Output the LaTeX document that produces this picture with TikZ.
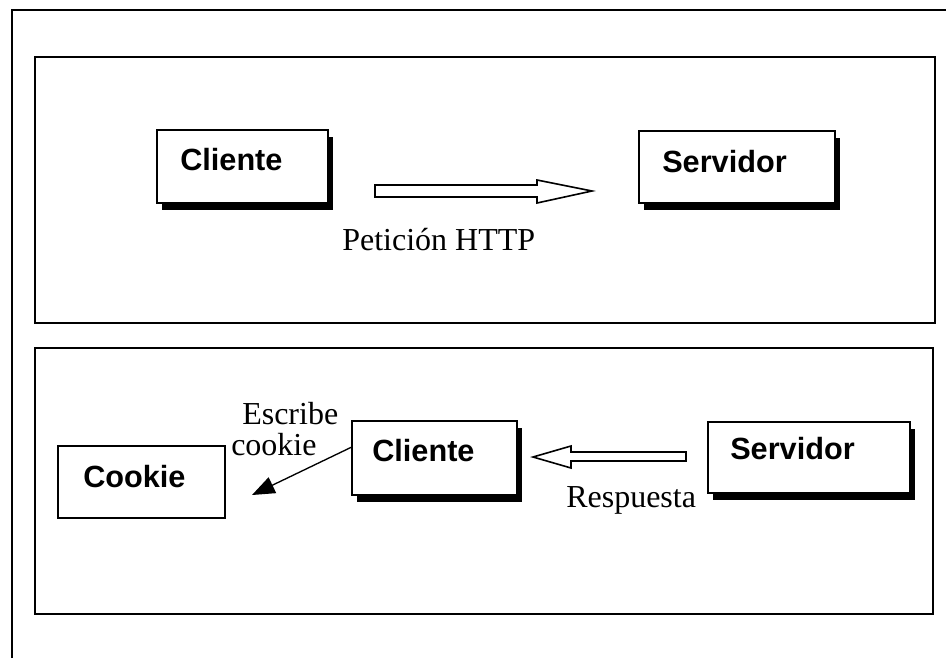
\documentclass[tikz,border=0pt]{standalone}
\usepackage{fontspec}
\setmainfont{Liberation Serif}
\setsansfont{Liberation Sans}
\usetikzlibrary{shadows,arrows.meta,calc}
\tikzset{
  frame/.style={draw=black, line width=1.5pt},
  box/.style={draw=black, line width=1.4pt, fill=white, inner sep=0pt, outer sep=0pt, anchor=north west},
  shbox/.style={box, drop shadow={shadow xshift=3.75pt, shadow yshift=-5.5pt, fill=black, opacity=1}},
  boxtext/.style={anchor=base west, inner sep=0pt, font=\sffamily\bfseries\fontsize{23}{28}\selectfont},
  lbl/.style={anchor=base west, inner sep=0pt, font=\fontsize{24}{23}\selectfont},
  hollow/.style={draw=black, line width=1.2pt, fill=white, line join=miter},
  thin/.style={draw=black, line width=1pt, -{Triangle[length=17pt, width=13pt]}}
}
\begin{document}
\begin{tikzpicture}[x=0.75pt, y=-0.75pt]
\useasboundingbox (0,0) rectangle (946,658);
% outer frame (top and left edges only)
\draw[frame] (12,658) -- (12,10) -- (946,10);
% panels
\draw[frame] (35,57) rectangle (935,323);
\draw[frame] (35,348) rectangle (933,614);

% top panel
\node[shbox, minimum width=128.25pt, minimum height=54.75pt] (c1) at (157,130) {};
\node[boxtext] (c1t) at (180,170) {Cliente};
\node[shbox, minimum width=147pt, minimum height=54pt] (s1) at (639,131) {};
\node[boxtext] (s1t) at (662,172) {Servidor};
\draw[hollow] (375,185) -- (537,185) -- (537,180) -- (592,191) -- (537,203) -- (537,197) -- (375,197) -- cycle;
\node[lbl] (pet) at (342,250) {Petición HTTP};

% bottom panel
\node[box, minimum width=125.25pt, minimum height=54pt] (ck) at (58,446) {};
\node[boxtext] (ckt) at (83,487) {Cookie};
\node[shbox, minimum width=123.75pt, minimum height=55.5pt] (c2) at (352,421) {};
\node[boxtext] (c2t) at (372,461) {Cliente};
\node[shbox, minimum width=151.5pt, minimum height=53.25pt] (s2) at (708,422) {};
\node[boxtext] (s2t) at (730,459) {Servidor};
\draw[hollow] (686,452) -- (571,452) -- (571,446) -- (533,457) -- (571,468) -- (571,461) -- (686,461) -- cycle;
\node[lbl] (resp) at (566,507) {Respuesta};
\node[lbl, align=left, anchor=north west] (esc) at (231,402) {\hspace*{8.25pt}Escribe\\cookie};
\coordinate (tipk) at (252,495);
\draw[thin] ($(c2.north west)!0.35!(c2.south west)$) -- (tipk);
\end{tikzpicture}
\end{document}
